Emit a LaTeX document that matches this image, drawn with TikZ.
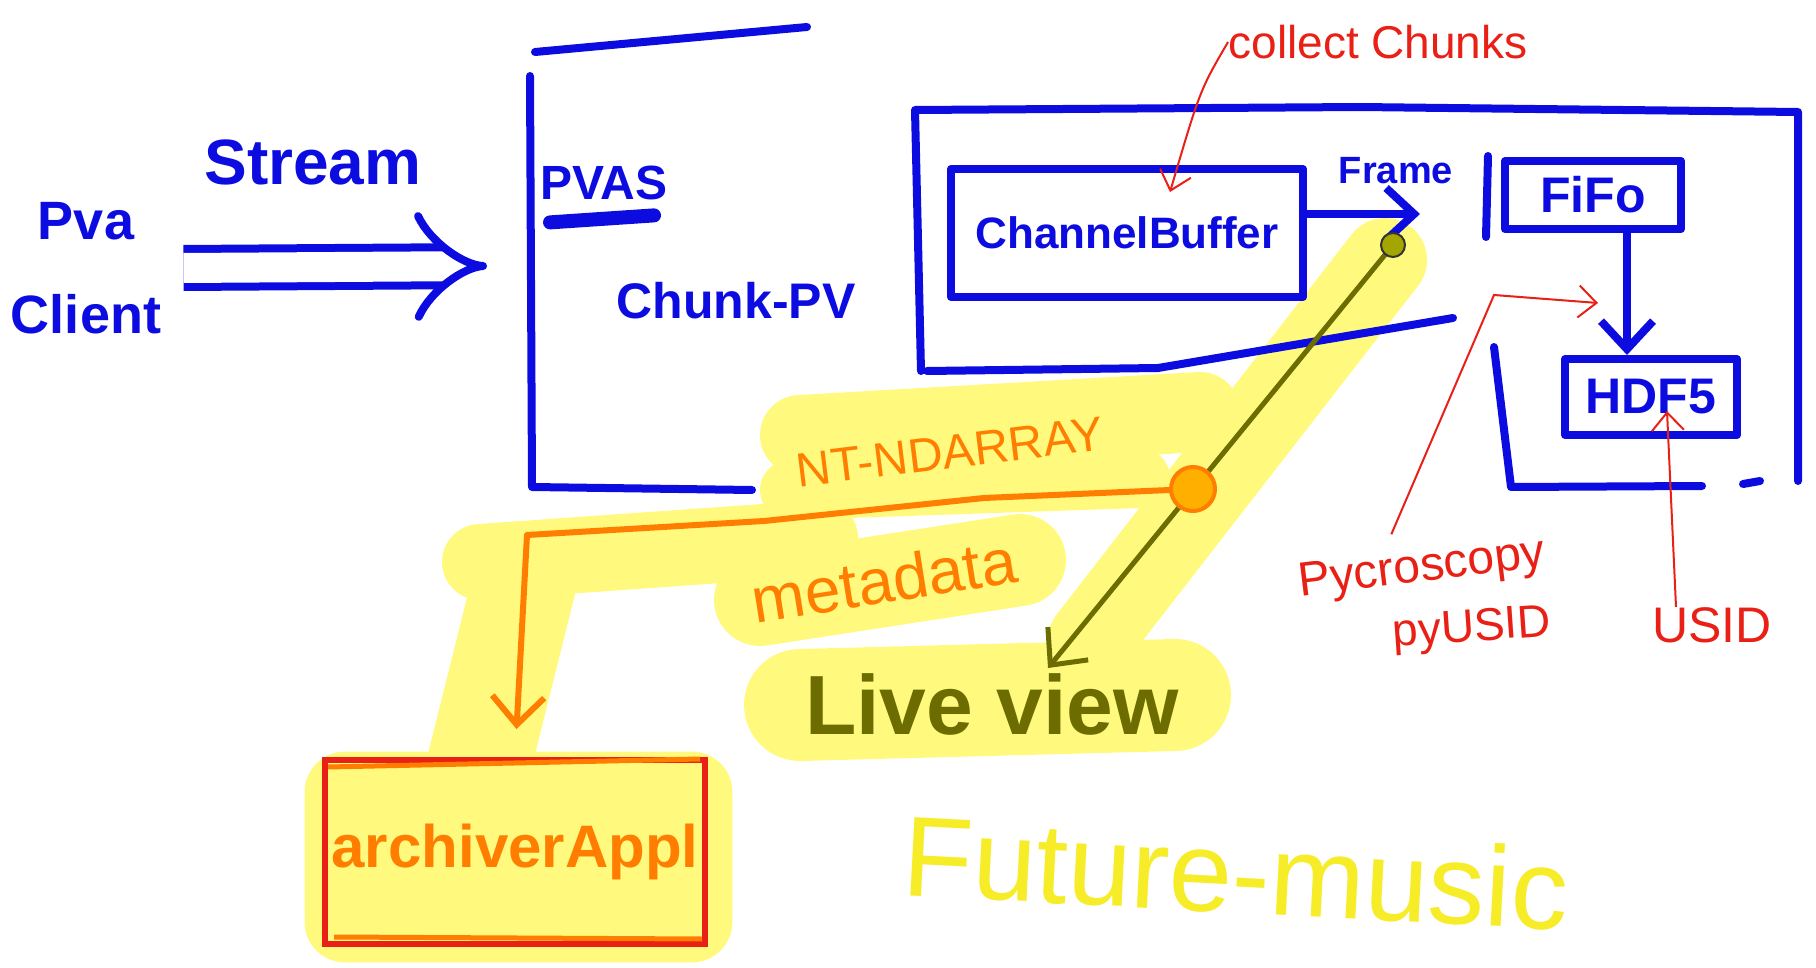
\documentclass[tikz,border=0pt]{standalone}
\usepackage{fontspec}
\setmainfont{Liberation Sans}
\usetikzlibrary{arrows.meta,calc}

\definecolor{inkblue}{RGB}{12,12,225}
\definecolor{inkred}{RGB}{232,32,22}
\definecolor{inkorange}{RGB}{255,125,0}
\definecolor{inkolive}{RGB}{108,108,0}
\definecolor{hlyellow}{RGB}{255,250,125}
\definecolor{futureyellow}{RGB}{246,236,40}

\tikzset{
  blueink/.style={draw=inkblue, line width=4pt, line cap=round, line join=round},
  bluebox/.style={blueink, rectangle, inner sep=0pt},
  bluetext/.style={text=inkblue, font=\bfseries\fontsize{#1}{#1}\selectfont, inner sep=0pt},
  redink/.style={draw=inkred, line width=1pt, -{Straight Barb[length=9pt,width=16pt]}},
  redtext/.style={text=inkred, font=\fontsize{#1}{#1}\selectfont, inner sep=0pt},
  orangetext/.style={text=inkorange, font=\fontsize{#1}{#1}\selectfont, inner sep=0pt},
  bigtip/.style={-{Straight Barb[length=14pt,width=26pt]}},
  marker/.style={draw=hlyellow, fill=hlyellow, line cap=round, line join=round}
}

\begin{document}
\begin{tikzpicture}[x=0.5pt,y=-0.5pt]
\useasboundingbox (0,0) rectangle (1816,968);

%%%%%%%%%%%%%%%%%%%%%%%%%%%%%%%%%%%%%%%%%%%%%%%%%%%%%%%%%%%%%%%%%%%%%%%%%%%%
%   yellow marker strokes (drawn first, they lie under everything)          %
%%%%%%%%%%%%%%%%%%%%%%%%%%%%%%%%%%%%%%%%%%%%%%%%%%%%%%%%%%%%%%%%%%%%%%%%%%%%
	\draw[marker, line width=42pt] (1385,260) -- (1090,640);
	\draw[marker, line width=40pt] (800,435) -- (1200,412);
	\draw[marker, line width=30pt] (790,490) -- (1140,478);
	\draw[marker, line width=46pt] (760,600) -- (1020,560);
	\draw[marker, line width=38pt] (480,562) -- (820,538);
	\draw[marker, line width=52pt] (525,580) -- (480,760);
	\fill[marker, rounded corners=20pt] (305,752) rectangle (732,962);
	\draw[marker, line width=56pt] (800,705) -- (1175,695);

%%%%%%%%%%%%%%%%%%%%%%%%%%%%%%%%%%%%%%%%%%%%%%%%%%%%%%%%%%%%%%%%%%%%%%%%%%%%
%   client, stream arrow and the PVAS box                                   %
%%%%%%%%%%%%%%%%%%%%%%%%%%%%%%%%%%%%%%%%%%%%%%%%%%%%%%%%%%%%%%%%%%%%%%%%%%%%
	%Pva Client on the far left
	\draw node[bluetext=27, align=center] (client) at (86,268) {Pva\\[20pt]Client};
	\draw node[bluetext=32] (stream) at (313,162) {Stream};

	%open box of the pvas server
	\coordinate (pvasW) at (531,266);
	\draw[blueink] (535,52) -- (807,27);
	\draw[blueink] (530,76) -- (532,487) -- (752,490);
	\draw[blueink, line cap=butt, double=white, double distance=15pt, -{Implies}]
		(client.east) ++(22,0) -- ($(pvasW)+(-44,0)$);

	\draw node[bluetext=24] (pvas) at (604,183) {PVAS};
	\draw[blueink, line width=7pt] (pvas.south west) ++(10,22) -- ++(104,-7);
	\draw node[bluetext=25] (chunkpv) at (736,301) {Chunk-PV};

%%%%%%%%%%%%%%%%%%%%%%%%%%%%%%%%%%%%%%%%%%%%%%%%%%%%%%%%%%%%%%%%%%%%%%%%%%%%
%   the large box with ChannelBuffer, FiFo and HDF5                         %
%%%%%%%%%%%%%%%%%%%%%%%%%%%%%%%%%%%%%%%%%%%%%%%%%%%%%%%%%%%%%%%%%%%%%%%%%%%%
	\draw[blueink] (921,371) -- (915,110) -- (1360,107) -- (1798,112) -- (1798,481);
	\draw[blueink] (927,371) -- (1158,368) -- (1453,318);
	\draw[blueink] (1494,347) -- (1511,487) -- (1702,486);
	\draw[blueink] (1743,484) -- (1760,481);

	\draw node[bluebox, minimum width=176pt, minimum height=64pt] (chbuf) at (1127,233) {};
	\draw node[bluetext=22] at (chbuf) {ChannelBuffer};

	\coordinate (frametip) at (1420,214);
	\draw[blueink, bigtip] (chbuf.east |- frametip) -- (frametip);
	\draw node[bluetext=19] (frame) at (1396,171) {Frame};

	\draw[blueink] (1488,156) -- (1486,237);
	\draw node[bluebox, minimum width=88pt, minimum height=34pt] (fifo) at (1593,195) {};
	\draw node[bluetext=25] at (fifo) {FiFo};

	\draw node[bluebox, minimum width=86pt, minimum height=38pt] (hdf5) at (1651,397) {};
	\draw node[bluetext=25] at (hdf5) {HDF5};
	\draw[blueink, bigtip] ([xshift=17pt]fifo.south) -- ([xshift=-12pt]hdf5.north);

%%%%%%%%%%%%%%%%%%%%%%%%%%%%%%%%%%%%%%%%%%%%%%%%%%%%%%%%%%%%%%%%%%%%%%%%%%%%
%   red notes                                                              %
%%%%%%%%%%%%%%%%%%%%%%%%%%%%%%%%%%%%%%%%%%%%%%%%%%%%%%%%%%%%%%%%%%%%%%%%%%%%
	\draw node[redtext=23] (collect) at (1378,42) {collect Chunks};
	\coordinate (collecttip) at (1170,192);
	\draw[redink] (collect.west) .. controls (1200,90) .. (collecttip);

	\draw node[redtext=24, rotate=7] (pycro) at (1422,570) {Pycroscopy};
	\draw node[redtext=23, rotate=4] (pyusid) at (1472,630) {pyUSID};
	\draw[redink] (pycro.north) ++(-28,-14) -- (1494,295) -- (1598,303);

	\draw node[redtext=25] (usid) at (1712,625) {USID};
	\draw[redink] ([xshift=-18pt]usid.north) -- (1667,411);

%%%%%%%%%%%%%%%%%%%%%%%%%%%%%%%%%%%%%%%%%%%%%%%%%%%%%%%%%%%%%%%%%%%%%%%%%%%%
%   live view, archiver and the future                                      %
%%%%%%%%%%%%%%%%%%%%%%%%%%%%%%%%%%%%%%%%%%%%%%%%%%%%%%%%%%%%%%%%%%%%%%%%%%%%
	\draw node[text=inkolive, font=\bfseries\fontsize{42}{42}\selectfont, inner sep=0pt] (liveview) at (992,704) {Live view};
	\coordinate (framedot) at (1393,245);
	\coordinate (lvtip) at (1048,668);
	\draw[inkolive, line width=2.5pt, line cap=round, bigtip] (framedot) -- (lvtip);
	\draw node[circle, fill={rgb,255:red,165;green,165;blue,0}, draw=black!80, line width=1pt, minimum size=12pt, inner sep=0pt] (olivedot) at (framedot) {};

	\draw node[draw=inkred, line width=3pt, minimum width=190pt, minimum height=92pt, inner sep=0pt] (archiver) at (515,852) {};
	\draw[inkorange, line width=2.5pt] ($(archiver.north west)+(6,10)$) -- ($(archiver.north east)+(-8,2)$);
	\draw[inkorange, line width=2.5pt] ($(archiver.south west)+(12,-10)$) -- ($(archiver.south east)+(-6,-8)$);
	\draw node[text=inkorange, font=\bfseries\fontsize{30}{30}\selectfont, inner sep=0pt] at (archiver) {archiverAppl};

	\coordinate (ntdot) at (1193,489);
	\draw[inkorange, line width=3pt, line cap=round, line join=round, bigtip, shorten >=14pt]
		(ntdot) -- (984,498) -- (764,521) -- (527,535) -- (archiver.north);
	\draw node[circle, fill={rgb,255:red,255;green,175;blue,0}, draw=inkorange, line width=2pt, minimum size=22pt, inner sep=0pt] (ntdotmark) at (ntdot) {};

	\draw node[orangetext=24, rotate=7] (ntnd) at (950,452) {NT-NDARRAY};
	\draw node[orangetext=32, rotate=9] (meta) at (884,580) {metadata};

	\draw node[text=futureyellow, font=\fontsize{57}{57}\selectfont, inner sep=0pt, rotate=-3] (future) at (1236,872) {Future-music};

\end{tikzpicture}
\end{document}
